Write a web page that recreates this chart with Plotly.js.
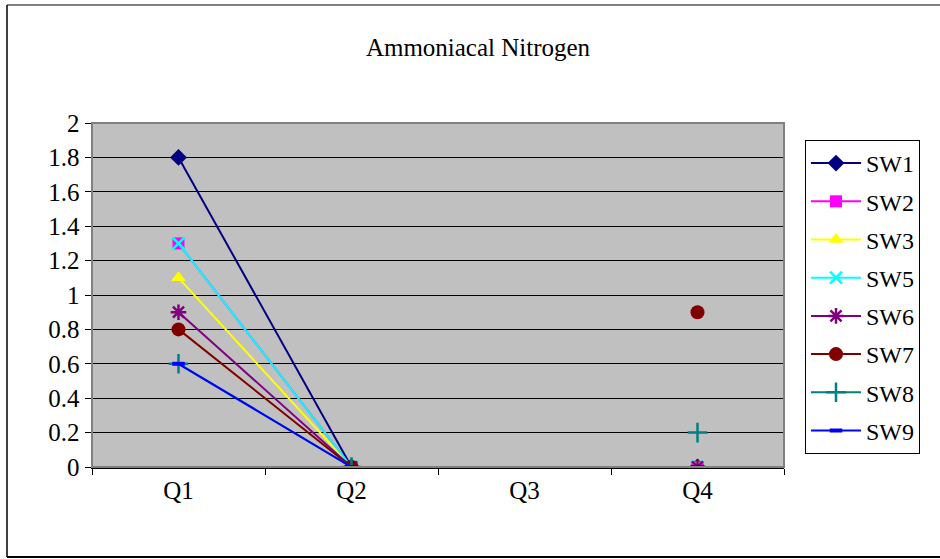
<!DOCTYPE html>
<html><head><meta charset="utf-8">
<script src="https://cdn.plot.ly/plotly-3.0.1.min.js"></script>
<style>body{margin:0;padding:0;background:#fff}#chart{width:940px;height:559px}</style>
</head><body><div id="chart"></div>
<script>
const categories = ["Q1","Q2","Q3","Q4"];
const seriesNames = ["SW1","SW2","SW3","SW5","SW6","SW7","SW8","SW9"];
const SW1 = [1.8, 0, null, 0];
const SW2 = [1.3, 0, null, 0];
const SW3 = [1.1, 0, null, 0];
const SW5 = [1.3, 0, null, 0];
const SW6 = [0.9, 0, null, 0];
const SW7 = [0.8, 0, null, 0.9];
const SW8 = [0.6, 0, null, 0.2];
const SW9 = [0.6, 0, null, 0];
const yTicks = [0,0.2,0.4,0.6,0.8,1,1.2,1.4,1.6,1.8,2];
const yTickText = ["0","0.2","0.4","0.6","0.8","1","1.2","1.4","1.6","1.8","2"];

const values = [SW1,SW2,SW3,SW5,SW6,SW7,SW8,SW9];
const styles = [
  {c:"#000080", m:{symbol:"diamond", size:13}},
  {c:"#FF00FF", m:{symbol:"square", size:12}},
  {c:"#FFFF00", m:{symbol:"triangle-up", size:13}},
  {c:"#00FFFF", m:{symbol:"x-thin-open", size:12, line:{width:2.5,color:"#00FFFF"}}},
  {c:"#800080", m:{symbol:"asterisk-open", size:13, line:{width:2.5,color:"#800080"}}},
  {c:"#800000", m:{symbol:"circle", size:14}},
  {c:"#008080", m:{symbol:"cross-thin-open", size:14, line:{width:2.5,color:"#008080"}}},
  {c:"#0000FF", m:{symbol:"line-ew-open", size:9, line:{width:4,color:"#0000FF"}}}
];
const traces = seriesNames.map((n,i)=>({
  type:"scatter", mode:"lines+markers", name:n, legendgroup:n,
  x:categories, y:values[i],
  line:{color:styles[i].c, width:2},
  marker:Object.assign({color:styles[i].c}, styles[i].m),
  connectgaps:false
}));

const L=92, T=123, W=692, H=344;
const px = v => (v-L)/W;
const py = v => (T+H-v)/H;
const FONT = "'Liberation Serif', 'Times New Roman', serif";

const layout = {
  width:940, height:559,
  margin:{l:92, r:156, t:123, b:92},
  paper_bgcolor:"#ffffff",
  plot_bgcolor:"#C0C0C0",
  font:{family:FONT, size:22, color:"#000"},
  title:{text:"Ammoniacal Nitrogen", x:478/940, xanchor:"center", y:1-47/559, yanchor:"middle",
         font:{family:FONT, size:25, color:"#000"}},
  xaxis:{type:"category", categoryorder:"array", categoryarray:categories,
         range:[-0.5,3.5], tickson:"boundaries", ticks:"outside", ticklen:6, tickcolor:"#000",
         showgrid:false, zeroline:false, showline:true, linecolor:"#000", linewidth:1.5,
         tickfont:{family:FONT, size:25, color:"#000"}, fixedrange:true},
  yaxis:{range:[0,2], tickvals:yTicks, ticktext:yTickText, ticks:"outside", ticklen:6, tickcolor:"#000",
         showgrid:true, gridcolor:"#000", gridwidth:1, zeroline:false,
         showline:true, linecolor:"#000", linewidth:1.5, tickfont:{family:FONT, size:25, color:"#000"}, fixedrange:true},
  showlegend:true,
  legend:{x:px(805), xanchor:"left", y:py(140), yanchor:"top",
          bordercolor:"#000", borderwidth:1, bgcolor:"#fff",
          font:{family:FONT, size:24, color:"#000"}, tracegroupgap:4, itemwidth:50},
  shapes:[
    {type:"rect", xref:"paper", yref:"paper", x0:0, x1:1, y0:0, y1:1, line:{color:"#808080", width:2}, fillcolor:"rgba(0,0,0,0)", layer:"above"},
    {type:"line", xref:"paper", yref:"paper", x0:px(7), x1:px(7), y0:py(5), y1:py(557), line:{color:"#404040", width:2}},
    {type:"line", xref:"paper", yref:"paper", x0:px(7), x1:px(945), y0:py(5), y1:py(5), line:{color:"#000", width:1}},
    {type:"line", xref:"paper", yref:"paper", x0:px(7), x1:px(945), y0:py(557), y1:py(557), line:{color:"#000", width:2}}
  ]
};
Plotly.newPlot("chart", traces, layout, {displayModeBar:false, staticPlot:true});
</script></body></html>
